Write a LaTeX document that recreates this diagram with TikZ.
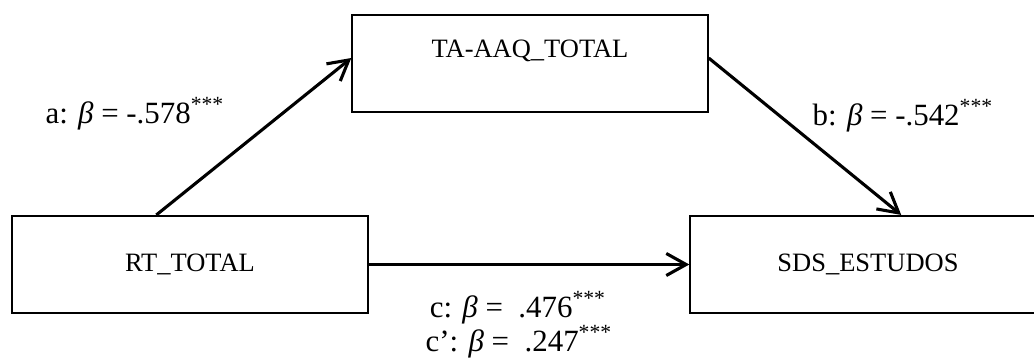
\documentclass[tikz,border=0pt]{standalone}
\usepackage{fontspec}
\setmainfont{Liberation Serif}
\usetikzlibrary{arrows.meta}

\begin{document}
\begin{tikzpicture}[
  x=0.453pt, y=-0.453pt,
  every node/.style={font=\fontsize{12}{14.5}\selectfont, inner sep=0pt},
  var/.style={draw, line width=0.9pt, minimum width=161pt, minimum height=44pt},
  path/.style={line width=1.4pt, -{Straight Barb[length=9pt,width=10pt,line width=1.4pt]}},
  coef/.style={anchor=base, font=\fontsize{14}{16}\selectfont}
]
\useasboundingbox (0,0) rectangle (1034,358);
% variables
\node[var] (rt)  at (190,264.5) {RT\_TOTAL};
\node[var, text depth=13pt] (taaq) at (530,63.5) {TA-AAQ\_TOTAL};
\node[var] (sds) at (868,264.5) {SDS\_ESTUDOS};
% paths
\draw[path] ([xshift=65.7pt]rt.north west) -- (taaq.west |- 0,58);
\draw[path] (taaq.east |- 0,58) -- ([xshift=96pt]sds.north west);
\draw[path] (rt) -- (sds);
% coefficients
\node[coef] (alab) at (135,123) {a: \textit{β} = -.578\textsuperscript{***}};
\node[coef] (blab) at (903,125) {b: \textit{β} = -.542\textsuperscript{***}};
\node[coef] (clab) at (518,317) {c: \textit{β} = \ .476\textsuperscript{***}};
\node[coef] (cplab) at (519,351) {c’: \textit{β} = \ .247\textsuperscript{***}};
\end{tikzpicture}
\end{document}
